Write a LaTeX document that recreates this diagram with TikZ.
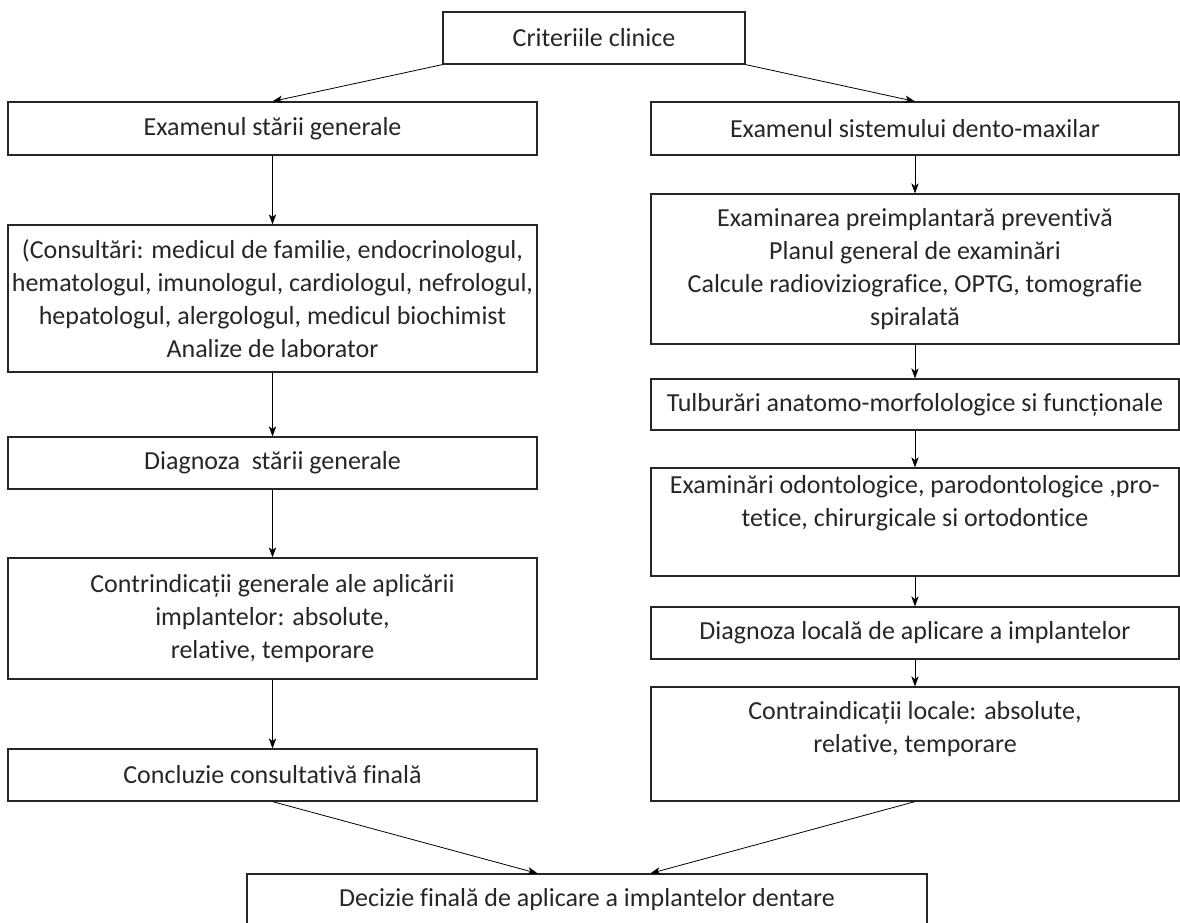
\documentclass[tikz,border=0pt]{standalone}
\usepackage{fontspec}
\setmainfont{Carlito}[Ligatures=NoCommon]
\usetikzlibrary{arrows.meta,calc}
\begin{document}
\begin{tikzpicture}[x=0.75pt,y=-0.75pt,
 txt/.style={inner sep=0pt,align=center,
   font=\fontsize{19.5pt}{24.75pt}\selectfont,text=black!85},
 box/.style={txt,draw=black!85,line width=0.9pt},
 lbox/.style={box,minimum width=396.75pt},
 rbox/.style={box,minimum width=396pt},
 conn/.style={draw=black,line width=0.6pt,-{Stealth[length=7.5pt,width=5.5pt,inset=2pt]}}]
\useasboundingbox (0,0) rectangle (1180,923);
\node[box,minimum width=226.5pt,minimum height=39pt] (T) at (594,38) {Criteriile clinice};
% left column
\node[lbox,minimum height=39.75pt] (L1) at (272.5,128.5) {Examenul stării generale};
\node[lbox,minimum height=110.25pt] (L2) at (272.5,298.5) {(Consultări: medicul de familie, endocrinologul,\\hematologul, imunologul, cardiologul, nefrologul,\\hepatologul, alergologul, medicul biochimist\\Analize de laborator};
\node[lbox,minimum height=39pt] (L3) at (272.5,463) {Diagnoza~ stării generale};
\node[lbox,minimum height=90.75pt] (L4) at (272.5,618.5) {Contrindicații generale ale aplicării\\implantelor: absolute,\\relative, temporare};
\node[lbox,minimum height=39pt] (L5) at (272.5,775) {Concluzie consultativă finală};
% right column
\node[rbox,minimum height=39.75pt] (R1) at (915,128.5) {Examenul sistemului dento-maxilar};
\node[rbox,minimum height=112.5pt] (R2) at (915,269) {Examinarea preimplantară preventivă\\Planul general de examinări\\Calcule radioviziografice, OPTG, tomografie\\spiralată};
\node[rbox,minimum height=38.25pt] (R3) at (915,404.5) {Tulburări anatomo-morfolologice si funcționale};
\node[rbox,minimum height=81pt] (R4) at (915,522) {};
\node[txt] (R4t) at (915,503) {Examinări odontologice, parodontologice ,pro-\\tetice, chirurgicale si ortodontice};
\node[rbox,minimum height=39pt] (R5) at (915,633) {Diagnoza locală de aplicare a implantelor};
\node[rbox,minimum height=85.5pt] (R6) at (915,744) {};
\node[txt] (R6t) at (915,729) {Contraindicații locale: absolute,\\relative, temporare};
% bottom
\node[box,minimum width=510pt,minimum height=39pt] (B) at (587,900) {Decizie finală de aplicare a implantelor dentare};
% connectors
\draw[conn] (T.south west) -- (L1.north);
\draw[conn] (T.south east) -- (R1.north);
\draw[conn] (L1) -- (L2);
\draw[conn] (L2) -- (L3);
\draw[conn] (L3) -- (L4);
\draw[conn] (L4) -- (L5);
\draw[conn] (R1) -- (R2);
\draw[conn] (R2) -- (R3);
\draw[conn] (R3) -- (R4);
\draw[conn] (R4) -- (R5);
\draw[conn] (R5) -- (R6);
\draw[conn] (L5.south) -- (B.north -| L5.east);
\draw[conn] (R6.south) -- (B.north -| R6.west);
\end{tikzpicture}
\end{document}
